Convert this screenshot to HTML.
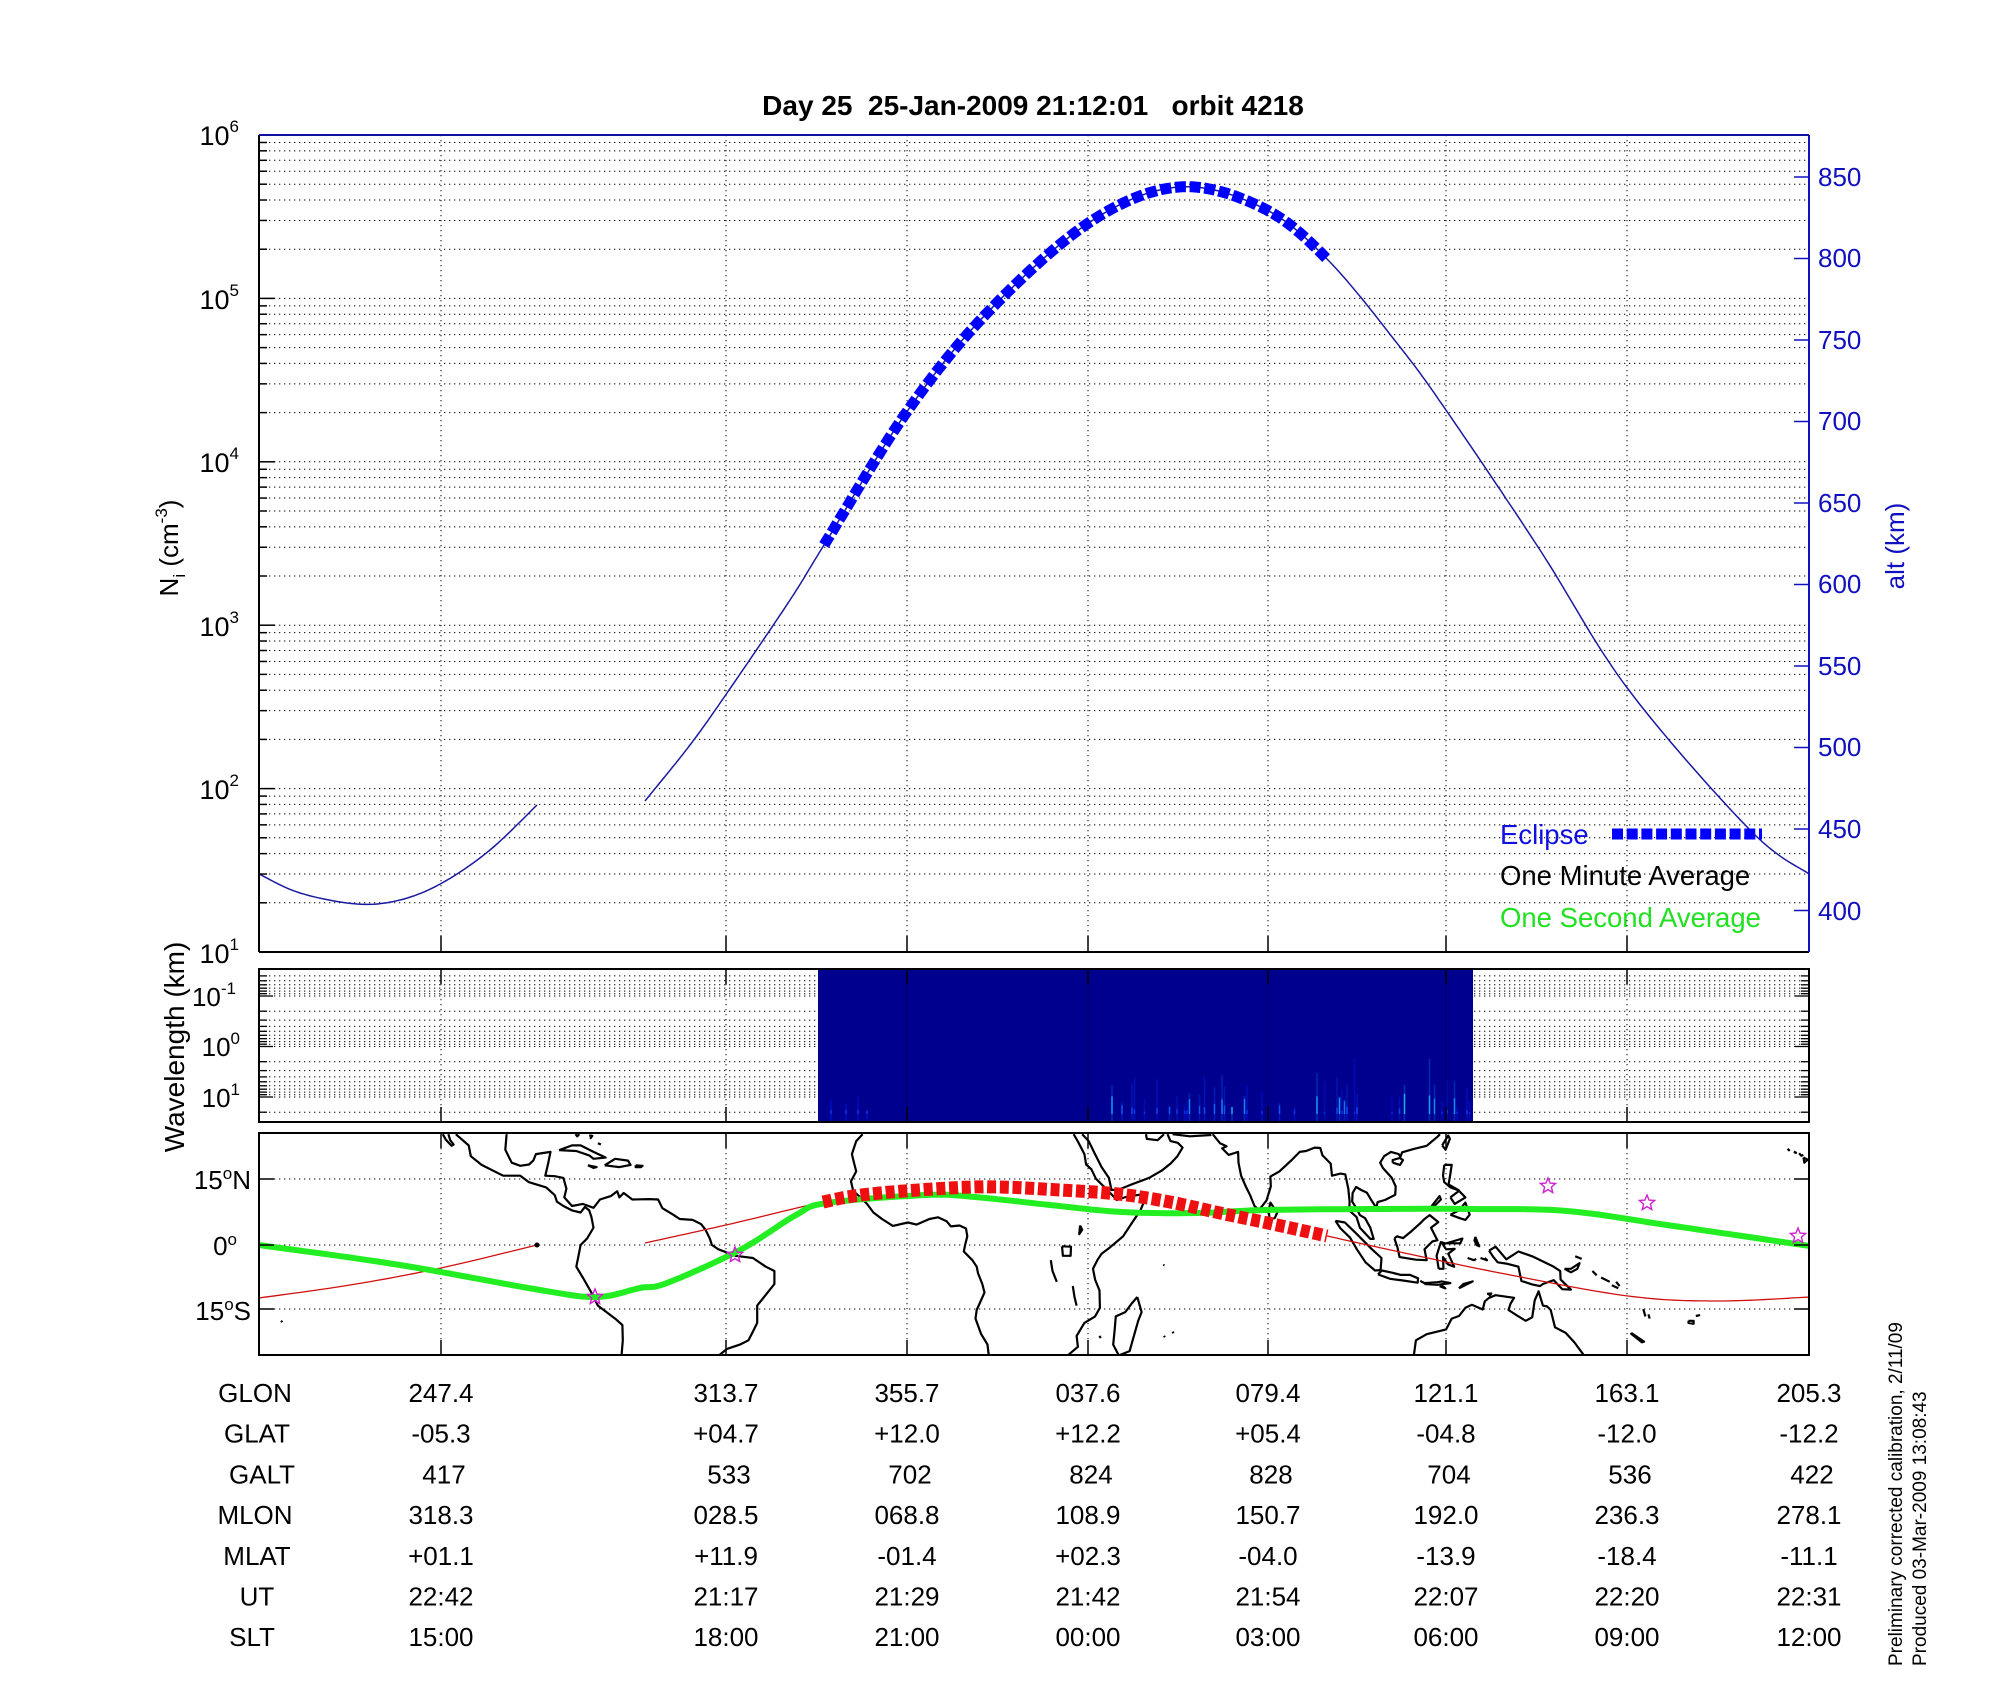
<!DOCTYPE html>
<html><head><meta charset="utf-8">
<style>
html,body{margin:0;padding:0;background:#fff;}
svg{display:block;}
text{font-family:"Liberation Sans",Arial,sans-serif;}
</style></head>
<body>
<svg id="s" xmlns="http://www.w3.org/2000/svg" width="2000" height="1700" viewBox="0 0 2000 1700">
<defs>
<clipPath id="mapclip"><rect x="259" y="1133" width="1550" height="222"/></clipPath>
<clipPath id="topclip"><rect x="259" y="135" width="1550" height="817"/></clipPath>
</defs>
<rect width="2000" height="1700" fill="#fff"/>
<g id="grid"></g>
<g id="spec"></g>
<g id="map" clip-path="url(#mapclip)"></g>
<g id="curve" clip-path="url(#topclip)"></g>
<g id="frames"></g>
<g id="labels">
<text x="1033" y="115" text-anchor="middle" font-size="28" font-weight="bold" xml:space="preserve">Day 25  25-Jan-2009 21:12:01   orbit 4218</text>
<g font-size="27" fill="#000" text-anchor="end">
<text x="239" y="145">10<tspan dy="-13" font-size="17">6</tspan></text>
<text x="239" y="309">10<tspan dy="-13" font-size="17">5</tspan></text>
<text x="239" y="472">10<tspan dy="-13" font-size="17">4</tspan></text>
<text x="239" y="636">10<tspan dy="-13" font-size="17">3</tspan></text>
<text x="239" y="799">10<tspan dy="-13" font-size="17">2</tspan></text>
<text x="239" y="963">10<tspan dy="-13" font-size="17">1</tspan></text>
</g>
<text transform="translate(178,548) rotate(-90)" text-anchor="middle" font-size="26">N<tspan dy="7" font-size="17">i</tspan><tspan dy="-7"> (cm</tspan><tspan dy="-11" font-size="17">-3</tspan><tspan dy="11">)</tspan></text>
<g font-size="26" fill="#1010c0">
<text x="1818" y="186">850</text>
<text x="1818" y="267">800</text>
<text x="1818" y="349">750</text>
<text x="1818" y="430">700</text>
<text x="1818" y="512">650</text>
<text x="1818" y="593">600</text>
<text x="1818" y="675">550</text>
<text x="1818" y="756">500</text>
<text x="1818" y="838">450</text>
<text x="1818" y="920">400</text>
</g>
<text transform="translate(1904,546) rotate(-90)" text-anchor="middle" font-size="26" fill="#1010c0">alt (km)</text>
<text x="1500" y="844" font-size="27.5" fill="#1010e0">Eclipse</text>
<text x="1500" y="885" font-size="27.5" fill="#000">One Minute Average</text>
<text x="1500" y="927" font-size="27.5" fill="#22e022">One Second Average</text>
<g font-size="26" text-anchor="end">
<text x="236" y="1006">10<tspan dy="-12" font-size="17">-1</tspan></text>
<text x="240" y="1056">10<tspan dy="-12" font-size="17">0</tspan></text>
<text x="240" y="1107">10<tspan dy="-12" font-size="17">1</tspan></text>
</g>
<text transform="translate(184,1047) rotate(-90)" text-anchor="middle" font-size="28">Wavelength (km)</text>
<g font-size="26" text-anchor="end">
<text x="251" y="1189">15<tspan dy="-10" font-size="17">o</tspan><tspan dy="10">N</tspan></text>
<text x="237" y="1255">0<tspan dy="-10" font-size="17">o</tspan><tspan dy="10"></tspan></text>
<text x="251" y="1320">15<tspan dy="-10" font-size="17">o</tspan><tspan dy="10">S</tspan></text>
</g>
<text transform="translate(1902,1666) rotate(-90)" font-size="19">Preliminary corrected calibration, 2/11/09</text>
<text transform="translate(1926,1666) rotate(-90)" font-size="19">Produced 03-Mar-2009 13:08:43</text>
</g>
<g id="table" font-size="26" text-anchor="middle"></g>
</svg>
<script>
(function(){
var NS="http://www.w3.org/2000/svg";
function el(parent,tag,attrs,txt){var e=document.createElementNS(NS,tag);for(var k in attrs)e.setAttribute(k,attrs[k]);if(txt!=null)e.textContent=txt;document.getElementById(parent).appendChild(e);return e;}
var L=259,R=1809;
var vx=[441,726,907,1088,1268,1446,1627];
var dot={stroke:"#000","stroke-width":1,"stroke-dasharray":"1.3,3.7",fill:"none"};
function line(g,x1,y1,x2,y2,a){var o={x1:x1,y1:y1,x2:x2,y2:y2};for(var k in a)o[k]=a[k];return el(g,"line",o);}
var T=135,B=952,dec=163.4;
for(var n=1;n<=6;n++){
  var yd=T+(6-n)*dec;
  if(n>1&&n<6) line("grid",L,yd,R,yd,dot);
  if(n<6){for(var k=2;k<=9;k++){var y=yd-dec*Math.log10(k);line("grid",L,y,R,y,dot);line("frames",L,y,L+8,y,{stroke:"#000","stroke-width":1.5});}}
  line("frames",L,yd,L+16,yd,{stroke:"#000","stroke-width":1.5});
}
vx.forEach(function(x){line("grid",x,T,x,B,dot);line("frames",x,B,x,B-16,{stroke:"#000","stroke-width":1.5});});
for(var a=400;a<=850;a+=50){var y=177+(850-a)*1.63;line("frames",R-15,y,R,y,{stroke:"#1010c0","stroke-width":1.5});}
line("frames",L,T,L,B,{stroke:"#000","stroke-width":2});
line("frames",L,B,R,B,{stroke:"#000","stroke-width":2});
line("frames",L,T,R,T,{stroke:"#1010a0","stroke-width":2});
line("frames",R,T,R,B,{stroke:"#1010c0","stroke-width":2});
var sT=969,sB=1122,sd=50.5,y0=996;
function sy(v){return y0+sd*(Math.log10(v)+1);}
[0.03,0.04,0.05,0.06,0.07,0.08,0.09,0.1,0.2,0.3,0.4,0.5,0.6,0.7,0.8,0.9,1,2,3,4,5,6,7,8,9,10,20].forEach(function(v){var y=sy(v);if(y<sT+1||y>sB-1)return;line("grid",L,y,R,y,dot);
 var major=(v==0.1||v==1||v==10);var len=major?14:8;
 line("frames",L,y,L+len,y,{stroke:"#000","stroke-width":1.3});line("frames",R-len,y,R,y,{stroke:"#000","stroke-width":1.3});});
vx.forEach(function(x){line("grid",x,sT,x,sB,dot);line("frames",x,sT,x,sT+15,{stroke:"#000","stroke-width":1.5});line("frames",x,sB,x,sB-15,{stroke:"#000","stroke-width":1.5});});
el("spec","rect",{x:818,y:sT,width:655,height:sB-sT,fill:"#00008e"});
var seed=12345;function rnd(){seed=(seed*1103515245+12345)%2147483648;return seed/2147483648;}
function streak(x,h,b){var g=Math.floor(40+b*180);var y1=sB-h;
  el("spec","line",{x1:x,y1:sB,x2:x,y2:y1,stroke:"rgb(0,"+Math.floor(g*0.4)+",210)","stroke-width":1.5,opacity:0.6});
  el("spec","line",{x1:x,y1:sB-8,x2:x,y2:sB-Math.min(h,10+b*20),stroke:"rgb(20,"+g+",255)","stroke-width":1.5,opacity:0.8});}
for(var x=1097;x<1470;x+=2.5){var r=rnd();if(r<0.3){var b=rnd();var h=12+rnd()*35;if(rnd()<0.15)h+=25;streak(x,h,b*b);}}
for(var x=822;x<875;x+=3){if(rnd()<0.25)streak(x,8+rnd()*18,0.1);}
vx.forEach(function(x){if(x>818&&x<1473)el("spec","line",{x1:x,y1:sT,x2:x,y2:sB,stroke:"#000030","stroke-width":1.2,opacity:0.35});});
el("frames","rect",{x:L,y:sT,width:R-L,height:sB-sT,fill:"none",stroke:"#000","stroke-width":2});
var mT=1133,mB=1355;
[1179,1245,1309].forEach(function(y){line("grid",L,y,R,y,dot);line("frames",L,y,L+15,y,{stroke:"#000","stroke-width":1.5});line("frames",R-15,y,R,y,{stroke:"#000","stroke-width":1.5});});
vx.forEach(function(x){line("grid",x,mT,x,mB,dot);line("frames",x,mT,x,mT+15,{stroke:"#000","stroke-width":1.5});line("frames",x,mB,x,mB-15,{stroke:"#000","stroke-width":1.5});});
function P(lon,lat){var d=((lon-205.3)%360+360)%360;return [259+d*4.3056,1245-lat*4.33];}
var coasts=[
[[-112,25.6],[-111.3,24.3],[-110,22.9],[-109.5,23.2],[-110.3,24.2],[-110.7,25.6]],
[[-109,25.6],[-106,23],[-105.5,20.5],[-103,18.5],[-98,16],[-94,16],[-92,14.5],[-88,13.3],[-86,11.5],[-85.5,10],[-84,9],[-82,8],[-80,7.5],[-79,8.8],[-78,8],[-77.5,6.5],[-77,4],[-78.5,1.5],[-80,0],[-80.5,-2.5],[-81,-5],[-79.5,-7.5],[-77.5,-11],[-76,-14],[-72,-17],[-70.3,-18.5],[-70.2,-22],[-70.5,-25.6]],
[[-97.2,25.6],[-97.5,22],[-96,19],[-94,18.3],[-92,18.6],[-91,19.5],[-90.4,21],[-87,21.5],[-87.5,19],[-88.2,16],[-86,15.9],[-84,15.5],[-83.3,13],[-83.8,11],[-82,9],[-79.5,9.5],[-77,8.6],[-75.5,10.5],[-73,11.3],[-71.5,12.4],[-71,11],[-70,12],[-68,10.5],[-64,10.6],[-62,10.5],[-61,8.5],[-58.5,7],[-57,6],[-54,5.8],[-52,4.8],[-51,3.5],[-50,1.5],[-49.5,0],[-48,-1],[-44,-2.5],[-40,-3],[-37,-5],[-35,-6],[-35,-9],[-37,-11.5],[-39,-14],[-39,-18],[-40,-20],[-41,-22],[-43,-23],[-46,-24],[-48,-25.6]],
[[-81.2,25.6],[-80.8,25.1],[-80.3,25.6]],
[[-85,21.9],[-82,23],[-80,23],[-77,21.5],[-74.2,20.2],[-77,19.9],[-78,20.7],[-81,21.7],[-85,21.9]],
[[-74.4,18.4],[-72,19.9],[-69,19.5],[-68.4,18.5],[-71,18],[-74.4,18.4]],
[[-78.3,18.4],[-76.3,18],[-77,17.8],[-78.3,18.4]],
[[-67.2,18.4],[-65.6,18.3],[-66,18],[-67.2,18],[-67.2,18.4]],
[[-77.8,24.5],[-77.3,25.2],[-78,25.3]],[[-76,23.5],[-75.3,23.2]],
[[-14.5,25.6],[-16,24],[-17,21],[-16.5,19],[-16,17],[-17.2,14.7],[-16.7,12.5],[-15,11],[-13.5,9.5],[-12,7.5],[-10,6],[-7.5,4.4],[-4,5.2],[-2,4.7],[1,6],[3,6.4],[5,5.5],[6,4.3],[8,4.5],[9.5,3.8],[9.8,2],[9.3,0],[9,-1.5],[11,-3.5],[12,-5],[12.3,-6.5],[13.3,-9],[13.8,-11],[12,-15],[11.7,-17],[13,-20.5],[14.5,-23],[14.8,-25.6]],
[[34.5,25.6],[35.5,23.9],[37,21],[37.4,18.6],[38.6,17.5],[39.7,15.3],[41.5,13.5],[43.2,11.8],[44.5,10.4],[47,11.2],[51.2,11.8],[51,10.4],[50,8],[48,5],[46,2],[43,-0.5],[41,-2],[40,-3.5],[39,-5.5],[39.5,-8],[40.5,-10.5],[40.6,-14.5],[39.5,-16.5],[37,-18],[35.2,-21],[35.5,-23.5],[33,-25.6]],
[[36.5,25.6],[38,24],[39.2,21.5],[41,18],[42.7,15.5],[43.3,12.7],[45,12.8],[48,14],[52,15.5],[55,17.2],[57,18.8],[58.6,20.5],[59.8,22.5],[58.7,23.6],[57,24],[56.3,25.6]],
[[51.3,25.6],[51.5,24.5],[54,24.2],[55.5,25.6]],
[[57.5,25.6],[61.5,25.1],[66.5,25.4]],
[[66.8,25.6],[68.5,23.5],[70,22.8],[69,22.3],[70.5,20.8],[72.7,21.5],[72.8,19],[73.4,16],[74.5,13.5],[75.5,11.5],[76.5,9],[77.5,8.1],[78.2,8.9],[79.3,10.3],[80.3,13.5],[80.2,15.8],[82.3,17],[85,19.5],[87,21.5],[88.5,21.7],[90.5,22.5],[91.8,22.4],[92.3,20.7],[94.2,18.8],[94.5,16],[96.5,16.5],[97.6,16.3],[98.3,13],[98.6,10],[98.5,8],[100.2,6.5],[101,4],[103.4,1.4],[104.2,1.4],[103.4,4],[102.2,6.2],[101,6.9],[100.2,8.5],[99.2,10],[99.3,12],[100.1,13.4],[101.3,12.7],[102.6,12.1],[103.5,10.6],[104.8,8.6],[105.1,9.9],[106.8,10.4],[109.2,11.6],[109.3,13.5],[108.4,15.5],[106.3,17.8],[105.7,19],[106.6,20.5],[108.2,21.5],[110,21],[110.4,20.3],[110.8,21.4],[113.5,22.2],[116.5,22.9],[119,25],[119.6,25.6]],
[[108.6,19],[110.3,18.5],[111,19.6],[110.2,20.1],[108.6,19.6],[108.6,19]],
[[79.8,8],[80.2,9.8],[81.8,7.5],[81.2,6.2],[80,6],[79.8,8]],
[[120.1,23],[120.9,22],[121.9,24.5],[121.5,25.3],[120.1,23]],
[[49.3,-12],[50.3,-15.5],[49.5,-17.5],[47.5,-24.5],[45,-25.5],[43.7,-23],[44,-20],[44.3,-16.5],[46.5,-15.5],[48,-13.5],[49.3,-12]],
[[95.3,5.6],[97.5,5.2],[100.3,2.5],[103.8,-1],[106,-3],[105.8,-5.8],[104.5,-5.9],[102.3,-4],[100.3,-1],[98.7,1.7],[96.5,3.8],[95.3,5.6]],
[[105.2,-6.8],[106.1,-5.9],[108.5,-6.4],[110.5,-6.9],[112.6,-6.9],[114.5,-7.7],[114.4,-8.7],[111,-8.2],[108,-7.8],[105.2,-6.8]],
[[115,-8.3],[116,-8.8],[119,-8.6],[120,-8.4],[122,-8.8],[119,-9.2],[116,-9]],
[[124,-10],[127.2,-8.4],[125,-9],[124,-10]],[[119.5,-9.5],[120.8,-10],[120,-9.3]],
[[109,1.5],[109.7,-0.5],[110.2,-2.8],[114,-3.4],[116.5,-3.5],[116,-1],[117.8,0.8],[119,1.1],[117.5,4],[119.2,5.3],[117.2,6.9],[116,6],[115,5],[113,3.2],[111,1.6],[109.6,2],[109,1.5]],
[[119.3,-5.5],[120.4,-5.5],[120.3,-2.8],[121.5,-4.5],[122.9,-5],[121.5,-2],[123,-0.9],[121,-1],[120.2,0.2],[121.5,0.5],[124.8,1.5],[124.3,0.4],[120.7,0.4],[119.8,0.7],[118.8,-2.5],[119.3,-5.5]],
[[127.8,1.9],[128.7,-0.3],[128.1,0],[127.6,1],[127.8,1.9]],
[[126,-3],[127.5,-3.5],[128,-3.2]],[[129,-3],[130.5,-3.5],[130,-3]],
[[131,-1.3],[132.5,-0.4],[135,-3.3],[137.8,-1.5],[141,-2.6],[145.8,-4.9],[147.5,-6],[147.6,-8],[150,-10.3],[148,-10.2],[146,-8.1],[143.5,-9],[142.8,-9.5],[141,-9.1],[138.5,-8.3],[137.8,-5],[135,-4.3],[133,-4],[132,-2.8],[131,-1.3]],
[[148.5,-5.5],[150,-5.5],[152,-4.2],[151.5,-5.5],[150,-6.3],[148.5,-5.5]],
[[152.5,-3.2],[151,-2.6]],[[155,-6],[156,-7]],[[157,-7.5],[159,-8.5]],[[159.5,-9.3],[161,-10]],[[160.5,-8.5],[161.3,-9.5]],
[[120.6,18.5],[122.3,18.5],[122,16.5],[121.6,14],[124,12.6],[122,13.3],[120.6,14.5],[120.3,16],[120.6,18.5]],
[[122,7],[124,8],[125.5,9.8],[126.5,7],[125.5,5.8],[124.2,6.2],[122,7]],
[[122,11],[124,12.5],[125.5,11],[123,9.5],[122,11]],
[[117.2,8.4],[119.5,11.3],[119.8,10.5],[117.5,8.2]],
[[113.5,-25.6],[114,-22],[116.5,-20.6],[121,-19.5],[122.3,-17],[124,-16.4],[125.5,-14.5],[127,-13.8],[129.5,-14.9],[130,-13],[131,-12.2],[132.5,-11.6],[136.8,-12.2],[136,-13.5],[135.5,-15],[137.5,-16.3],[139.5,-17.5],[141,-16.7],[141.6,-12.8],[142.5,-10.7],[143.5,-14],[144.5,-14.2],[145.3,-15],[146.3,-19],[148.8,-20.3],[150.8,-22.5],[153.1,-25.6]],
[[130.5,-11.3],[131.5,-11.2],[131,-11.8]],
[[177.3,-17.5],[178.5,-17.5],[178.5,-18.2],[177.3,-18],[177.3,-17.5]],[[179,-16.4],[180,-16.2]],
[[166.8,-14.8],[167.3,-16.5]],[[168,-16],[168.3,-17]],
[[164,-20.3],[167,-22.3],[166.5,-22.5],[164,-20.5],[164,-20.3]],
[[-159.7,22.2],[-159.3,21.9],[-159.6,21.9]],[[-158.2,21.6],[-157.7,21.3],[-158.1,21.3]],[[-157,21.2],[-156.5,20.6],[-156,20.8]],[[-156,20.2],[-155,19.7],[-155.8,19],[-155.9,19.8],[-156,20.2]],
[[-149.6,-17.5],[-149.3,-17.8]],
[[31.8,-0.3],[33.9,-0.4],[33.8,-2.5],[32,-2.5],[31.8,-0.3]],
[[29.2,-3.5],[29.6,-6],[30.6,-8.5]],[[34.3,-9.5],[34.7,-12],[35.2,-14]],
[[36,4.5],[35.8,2.5],[36.5,3.5],[36,4.5]],[[40.5,-21],[40.8,-21.5]],[[55.3,-4.6],[55.6,-4.7]],[[57.5,-20],[57.7,-20.4]],[[55.5,-21],[55.7,-21.3]]
];
coasts.forEach(function(c){var d=c.map(function(p,i){var q=P(p[0],p[1]);return (i?"L":"M")+q[0].toFixed(1)+","+q[1].toFixed(1);}).join("");
 el("map","path",{d:d,fill:"none",stroke:"#000","stroke-width":2.2,"stroke-linejoin":"round"});});
function spl(pts,step){var out=[];for(var i=0;i<pts.length-1;i++){var p0=pts[i-1]||pts[i],p1=pts[i],p2=pts[i+1],p3=pts[i+2]||p2;
 var c1=[p1[0]+(p2[0]-p0[0])/6,p1[1]+(p2[1]-p0[1])/6],c2=[p2[0]-(p3[0]-p1[0])/6,p2[1]-(p3[1]-p1[1])/6];
 for(var t=0;t<1;t+=1/step){var u=1-t;out.push([u*u*u*p1[0]+3*u*u*t*c1[0]+3*u*t*t*c2[0]+t*t*t*p2[0],u*u*u*p1[1]+3*u*u*t*c1[1]+3*u*t*t*c2[1]+t*t*t*p2[1]]);}}
 out.push(pts[pts.length-1]);return out;}
function pd(pts){return pts.map(function(p,i){return (i?"L":"M")+p[0].toFixed(1)+","+p[1].toFixed(1);}).join("");}
function range(pts,a,b){return pts.filter(function(p){return p[0]>=a&&p[0]<=b;});}
var red1=spl([[259,1298],[350,1285],[441,1268],[537,1245]],10);
el("map","path",{d:pd(red1),fill:"none",stroke:"#d01010","stroke-width":1.3});
el("map","circle",{cx:537,cy:1245,r:2.5,fill:"#000"});
var red2=spl([[645,1243],[726,1225],[823,1202],[870,1194],[950,1188],[1000,1187],[1060,1190],[1118,1194],[1170,1202],[1220,1213],[1268,1223],[1327,1236],[1400,1252],[1500,1273],[1628,1296],[1717,1301],[1810,1297]],16);
el("map","path",{d:pd(range(red2,645,823))+pd(range(red2,1327,1810)),fill:"none",stroke:"#d01010","stroke-width":1.3});
var green=spl([[259,1245],[400,1265],[540,1290],[597,1297],[640,1288],[667,1283],[740,1250],[796,1215],[827,1203],[926,1195],[975,1197],[1050,1205],[1122,1212],[1198,1213],[1265,1210],[1380,1209],[1473,1209],[1567,1211],[1667,1225],[1810,1246]],12);
el("map","path",{d:pd(green),fill:"none",stroke:"#22ee22","stroke-width":6,"stroke-linejoin":"round"});
el("map","path",{d:pd(range(red2,823,1327)),fill:"none",stroke:"#ee1010","stroke-width":13,"stroke-dasharray":"9,3.7"});
function star(cx,cy,r){var s="";for(var i=0;i<10;i++){var a=-Math.PI/2+i*Math.PI/5;var rr=i%2?r*0.45:r;s+=(cx+rr*Math.cos(a)).toFixed(1)+","+(cy+rr*Math.sin(a)).toFixed(1)+" ";}
 el("map","polygon",{points:s,fill:"none",stroke:"#d020d0","stroke-width":1.4});}
[[595,1297],[735,1255],[1548,1186],[1647,1203],[1798,1236]].forEach(function(p){star(p[0],p[1],8);});
el("frames","rect",{x:L,y:mT,width:R-L,height:mB-mT,fill:"none",stroke:"#000","stroke-width":2});
var cL=spl([[259,874],[300,893],[357,904],[400,900],[442,883],[490,850],[537,805]],12);
var cR=spl([[645,801],[690,745],[727,693],[790,600],[824,545],[906,413],[988,312],[1090,222],[1179,187],[1263,208],[1328,260],[1400,347],[1448,413],[1540,550],[1628,689],[1750,830],[1809,874]],20);
el("curve","path",{d:pd(cL)+pd(cR),fill:"none",stroke:"#1a1aa0","stroke-width":1.5});
el("curve","path",{d:pd(range(cR,824,1328)),fill:"none",stroke:"#0000ff","stroke-width":11,"stroke-dasharray":"11,3.7"});
el("curve","path",{d:"M1612,834L1762,834",stroke:"#0000ff","stroke-width":11,"stroke-dasharray":"11,3.7",fill:"none"});
var rows=[["GLON","247.4","313.7","355.7","037.6","079.4","121.1","163.1","205.3"],
["GLAT","-05.3","+04.7","+12.0","+12.2","+05.4","-04.8","-12.0","-12.2"],
["GALT","417","533","702","824","828","704","536","422"],
["MLON","318.3","028.5","068.8","108.9","150.7","192.0","236.3","278.1"],
["MLAT","+01.1","+11.9","-01.4","+02.3","-04.0","-13.9","-18.4","-11.1"],
["UT","22:42","21:17","21:29","21:42","21:54","22:07","22:20","22:31"],
["SLT","15:00","18:00","21:00","00:00","03:00","06:00","09:00","12:00"]];
var cx=[256,441,726,907,1088,1268,1446,1627,1809];
var lx=[255,257,262,255,257,257,252];
rows.forEach(function(r,i){var y=1402+i*40.7;r.forEach(function(t,j){var x=j?cx[j]:lx[i];if(i==2&&j>0)x+=3;el("table","text",{x:x,y:y.toFixed(1)},t);});});
})();
</script>
</body></html>
